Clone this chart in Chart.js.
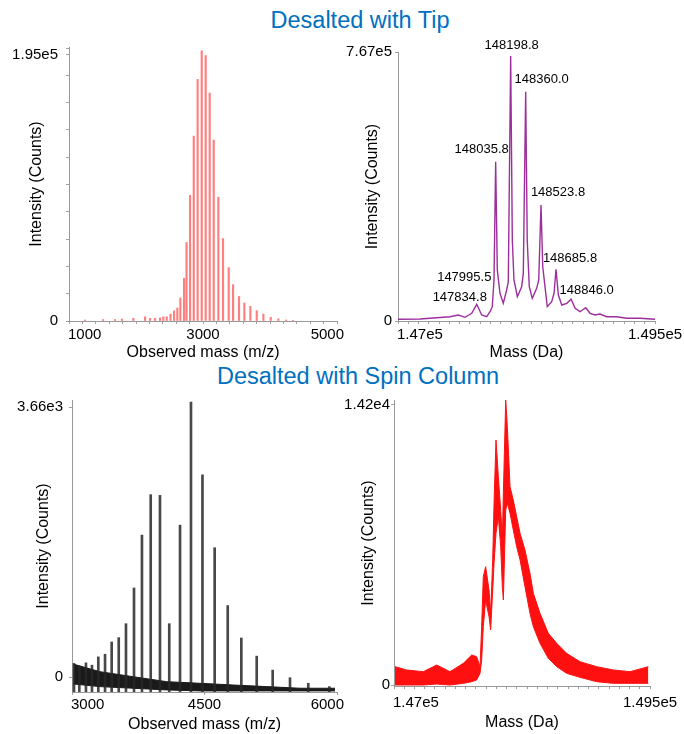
<!DOCTYPE html>
<html>
<head>
<meta charset="utf-8">
<script src="https://cdn.jsdelivr.net/npm/chart.js@4.4.1/dist/chart.umd.min.js"></script>
<style>
body { margin: 0; background: #fff; width: 684px; height: 734px; position: relative; overflow: hidden; font-family: "Liberation Sans", Arial, sans-serif; }
.head { position: absolute; color: #0070c0; font-size: 23.5px; line-height: 1; white-space: nowrap; transform: translateX(-50%); }
canvas { position: absolute; }
</style>
</head>
<body>
<div class="head" style="left:360px;top:9px">Desalted with Tip</div>
<div class="head" style="left:358px;top:365px">Desalted with Spin Column</div>
<canvas id="tipMzChart" width="345" height="335" style="left:0;top:30px"></canvas>
<canvas id="tipMassChart" width="339" height="335" style="left:345px;top:30px"></canvas>
<canvas id="spinMzChart" width="345" height="354" style="left:0;top:380px"></canvas>
<canvas id="spinMassChart" width="339" height="354" style="left:345px;top:380px"></canvas>
<script>
// --- Desalted with tip : raw m/z spectrum (charge state envelope)
const tipMz = [1239, 1508, 1687, 1791, 1960, 2135, 2209, 2284, 2359, 2408, 2459, 2515, 2568, 2617, 2662, 2717, 2754, 2807, 2862, 2920, 2981, 3040, 3100, 3160, 3229, 3299, 3384, 3449, 3538, 3617, 3707, 3802, 3901, 4011, 4125, 4240, 4344];
const tipMzInt = [720, 1080, 1080, 1440, 1940, 3090, 1940, 1940, 2370, 3090, 3090, 5040, 7410, 9570, 16900, 31300, 57600, 92100, 135500, 177000, 197900, 194500, 167000, 132600, 90700, 60400, 39100, 26600, 18000, 13200, 10800, 7560, 5040, 2660, 1660, 720, 500];
const tipMzTicks = [1000, 3000, 5000];
const tipMzTickLabels = ['1000', '3000', '5000'];
const tipMzYTicks = [0, 195000];
const tipMzYLabels = ['0', '1.95e5'];

// --- Desalted with tip : deconvoluted mass spectrum
const tipMass = [147000, 147214, 147441, 147506, 147587, 147652, 147717, 147766, 147814, 147863, 147895, 147917, 147934, 147950, 147966, 147992, 148024, 148057, 148073, 148096, 148112, 148128, 148161, 148203, 148219, 148242, 148257, 148277, 148306, 148349, 148369, 148391, 148408, 148430, 148452, 148495, 148518, 148537, 148560, 148593, 148642, 148684, 148723, 148771, 148826, 148868, 148916, 148965, 149030, 149128, 149225, 149354, 149500];
const tipMassInt = [4850, 5700, 10550, 12260, 17110, 10550, 21950, 47620, 17110, 12260, 26520, 40770, 116900, 454200, 145400, 79000, 50470, 88390, 112100, 755600, 231000, 116900, 69290, 97800, 136000, 653800, 231000, 97800, 64720, 93240, 116900, 330700, 154800, 97800, 40770, 55030, 79000, 147400, 74130, 45620, 50470, 61870, 36210, 26520, 37920, 21950, 17110, 19960, 12260, 12260, 7700, 7700, 4850];
const tipPeakText = ['148198.8', '148360.0', '148035.8', '148523.8', '148685.8', '148846.0', '147995.5', '147834.8'];
const tipPeakAt = [148096, 148242, 147950, 148391, 148537, 148684, 147917, 147766];
const tipMassTicks = [147000, 149500];
const tipMassTickLabels = ['1.47e5', '1.495e5'];
const tipMassYTicks = [0, 767000];
const tipMassYLabels = ['0', '7.67e5'];

// --- Desalted with spin column : raw m/z spectrum
const spinMz = [3023, 3083, 3158, 3226, 3298, 3374, 3449, 3529, 3611, 3702, 3792, 3891, 3996, 4101, 4223, 4347, 4477, 4615, 4763, 4917, 5091, 5272, 5468, 5675, 5913];
const spinMzInt = [184, 148, 192, 161, 273, 309, 475, 534, 723, 1207, 1924, 2472, 2462, 723, 2059, 3727, 2741, 1753, 969, 529, 283, 94, -9, -85, -130];
const spinNoiseMz = [3015, 3317, 3694, 4072, 4449, 4826, 5204, 5581, 5977];
const spinNoiseHigh = [175, 72, 4, -63, -85, -108, -130, -152, -152];
const spinNoiseLow = [-94, -130, -152, -175, -188, -188, -188, -188, -188];
const spinMzTicks = [3000, 4500, 6000];
const spinMzTickLabels = ['3000', '4500', '6000'];
const spinMzYTicks = [0, 3660];
const spinMzYLabels = ['0', '3.66e3'];

// --- Desalted with spin column : deconvoluted mass (noisy envelope)
const spinMass = [147010, 147124, 147286, 147417, 147547, 147677, 147759, 147807, 147840, 147856, 147872, 147895, 147928, 147944, 147964, 147977, 147996, 148019, 148042, 148058, 148068, 148091, 148107, 148133, 148165, 148198, 148231, 148279, 148328, 148361, 148426, 148507, 148589, 148686, 148816, 148979, 149142, 149305, 149484];
const spinMassHigh = [930, 761, 676, 1014, 676, 1099, 1521, 1437, 930, 2958, 5494, 6001, 4817, 3634, 6339, 9212, 12424, 10565, 8874, 7353, 9720, 14452, 13100, 10057, 9381, 8536, 7691, 6846, 5663, 4648, 3634, 2620, 2113, 1606, 1183, 930, 761, 676, 930];
const spinMassLow = [0, 0, 0, 51, 0, 85, 169, 254, 592, 1268, 2958, 4310, 3465, 2789, 4817, 6170, 7691, 8536, 7015, 4986, 4310, 8874, 9212, 8705, 7860, 7015, 6339, 4986, 3634, 2958, 2113, 1352, 930, 592, 389, 169, 85, 85, 85];
const spinMassTicks = [147000, 149500];
const spinMassTickLabels = ['1.47e5', '1.495e5'];
const spinMassYTicks = [0, 14200];
const spinMassYLabels = ['0', '1.42e4'];

const FONT = '"Liberation Sans", Arial, sans-serif';

function pts(xs, ys) {
    return xs.map((x, i) => ({ x: x, y: ys[i] }));
}

function steps(from, to, step) {
    const out = [];
    for (let v = from; v <= to + 1e-6; v += step) out.push(v);
    return out;
}

// x tick labels: first one starts at its tick, the others are centred and kept inside the canvas
function xLabels(values, labels, gap) {
    return {
        id: 'xLabels',
        afterDraw(chart) {
            const { ctx, chartArea } = chart;
            const sx = chart.scales.x;
            ctx.save();
            ctx.font = '15px ' + FONT;
            ctx.fillStyle = '#000';
            ctx.textBaseline = 'middle';
            ctx.textAlign = 'left';
            values.forEach((v, i) => {
                const w = ctx.measureText(labels[i]).width;
                const px = sx.getPixelForValue(v);
                let left = i === 0 ? px - 1 : px - w / 2;
                left = Math.min(left, chart.width - w - 1);
                ctx.fillText(labels[i], left, chartArea.bottom + gap);
            });
            ctx.restore();
        }
    };
}

// mass annotations above the peaks
function peakLabels(text, at, xs, ys, shift) {
    return {
        id: 'peakLabels',
        afterDatasetsDraw(chart) {
            const { ctx } = chart;
            const sx = chart.scales.x, sy = chart.scales.y;
            ctx.save();
            ctx.font = '13px ' + FONT;
            ctx.fillStyle = '#000';
            ctx.textAlign = 'center';
            ctx.textBaseline = 'middle';
            text.forEach((t, i) => {
                const k = xs.indexOf(at[i]);
                ctx.fillText(t, sx.getPixelForValue(xs[k]) + shift[i][0], sy.getPixelForValue(ys[k]) + shift[i][1]);
            });
            ctx.restore();
        }
    };
}

function drawPanel(id, p) {
    const xTickVals = p.xMinor || p.xTicks;
    const yTickVals = p.yMinor || p.yTicks;
    return new Chart(document.getElementById(id), {
        type: 'line',
        data: { datasets: p.datasets },
        options: {
            responsive: false,
            animation: false,
            devicePixelRatio: 1,
            layout: { padding: p.pad },
            plugins: { legend: { display: false }, tooltip: { enabled: false } },
            scales: {
                x: {
                    type: 'linear', min: p.xMin, max: p.xMax, offset: false,
                    afterBuildTicks: s => { s.ticks = xTickVals.map(v => ({ value: v })); },
                    afterFit: s => { s.height = p.xh; },
                    ticks: { display: false },
                    grid: { drawOnChartArea: false, offset: false, tickLength: 3, color: '#a0a0a0' },
                    border: { color: '#999' },
                    title: { display: true, text: p.xTitle, color: '#000', font: { family: FONT, size: 16 }, padding: { top: 0, bottom: p.xtp } }
                },
                y: {
                    type: 'linear', min: p.yMin, max: p.yMax,
                    afterBuildTicks: s => { s.ticks = yTickVals.map(v => ({ value: v })); },
                    afterFit: s => { s.width = p.yw; },
                    ticks: {
                        autoSkip: false, padding: p.ytp, color: '#000', font: { family: FONT, size: 15 },
                        callback: v => { const i = p.yTicks.indexOf(v); return i < 0 ? '' : p.yLabels[i]; }
                    },
                    grid: { drawOnChartArea: false, tickLength: 3, color: '#a0a0a0' },
                    border: { color: '#999' },
                    title: { display: true, text: 'Intensity (Counts)', color: '#000', font: { family: FONT, size: 16 }, padding: { top: p.ytitle, bottom: 0 } }
                }
            }
        },
        plugins: [xLabels(p.xTicks, p.xLabels, p.gap)].concat(p.extra || [])
    });
}

// top left
drawPanel('tipMzChart', {
    datasets: [{
        type: 'bar', data: pts(tipMz, tipMzInt),
        backgroundColor: 'rgba(255,0,0,0.5)', barThickness: 1.5
    }],
    xMin: 1000, xMax: 5000, xTicks: tipMzTicks, xLabels: tipMzTickLabels, xMinor: steps(1000, 5000, 200),
    yMin: 0, yMax: 200770, yTicks: tipMzYTicks, yLabels: tipMzYLabels, yMinor: steps(0, 200000, 20000).concat([195000]),
    xTitle: 'Observed mass (m/z)',
    pad: { left: 0, right: 8, top: 12, bottom: 0 }, yw: 69, ytitle: 27.4, xh: 44, xtp: 2.4, ytp: 8, gap: 14
});

// top right
drawPanel('tipMassChart', {
    datasets: [{
        data: pts(tipMass, tipMassInt),
        borderColor: '#9c2f9c', borderWidth: 1.4, pointRadius: 0, tension: 0, fill: false
    }],
    xMin: 147000, xMax: 149500, xTicks: tipMassTicks, xLabels: tipMassTickLabels, xMinor: steps(147000, 149500, 100),
    yMin: 0, yMax: 767000, yTicks: tipMassYTicks, yLabels: tipMassYLabels,
    xTitle: 'Mass (Da)',
    pad: { left: 0, right: 29, top: 22, bottom: 0 }, yw: 53, ytitle: 17.9, xh: 44, xtp: 2.4, ytp: 3, gap: 14,
    extra: [peakLabels(tipPeakText, tipPeakAt, tipMass, tipMassInt,
        [[1, -11], [16, -12], [-14, -12], [17, -13], [14, -11], [15.5, -9], [-28, -29], [-17, -7]])]
});

// bottom left
drawPanel('spinMzChart', {
    datasets: [
        { type: 'bar', data: pts(spinMz, spinMzInt), backgroundColor: 'rgba(40,40,40,0.85)', barThickness: 2, base: -203 },
        { data: pts(spinNoiseMz, spinNoiseLow), borderColor: '#1a1a1a', borderWidth: 1, pointRadius: 0, tension: 0, fill: false },
        { data: pts(spinNoiseMz, spinNoiseHigh), borderColor: '#1a1a1a', borderWidth: 1, pointRadius: 0, tension: 0, fill: '-1', backgroundColor: '#1a1a1a' }
    ],
    xMin: 3000, xMax: 6000, xTicks: spinMzTicks, xLabels: spinMzTickLabels,
    yMin: -203, yMax: 3755, yTicks: spinMzYTicks, yLabels: spinMzYLabels,
    xTitle: 'Observed mass (m/z)',
    pad: { left: 0, right: 8, top: 20, bottom: 0 }, yw: 72, ytitle: 33.9, xh: 42, xtp: 0, ytp: 6, gap: 13
});

// bottom right
drawPanel('spinMassChart', {
    datasets: [
        { data: pts(spinMass, spinMassLow), borderColor: '#ff1010', borderWidth: 1, pointRadius: 0, tension: 0, fill: false },
        { data: pts(spinMass, spinMassHigh), borderColor: '#ff1010', borderWidth: 1, pointRadius: 0, tension: 0, fill: '-1', backgroundColor: '#ff1010' }
    ],
    xMin: 147000, xMax: 149500, xTicks: spinMassTicks, xLabels: spinMassTickLabels, xMinor: steps(147000, 149500, 100),
    yMin: -50, yMax: 14450, yTicks: spinMassYTicks, yLabels: spinMassYLabels,
    xTitle: 'Mass (Da)',
    pad: { left: 0, right: 34, top: 20, bottom: 0 }, yw: 49, ytitle: 13.9, xh: 48, xtp: 1.9, ytp: 1, gap: 16.5
});
</script>
</body>
</html>
